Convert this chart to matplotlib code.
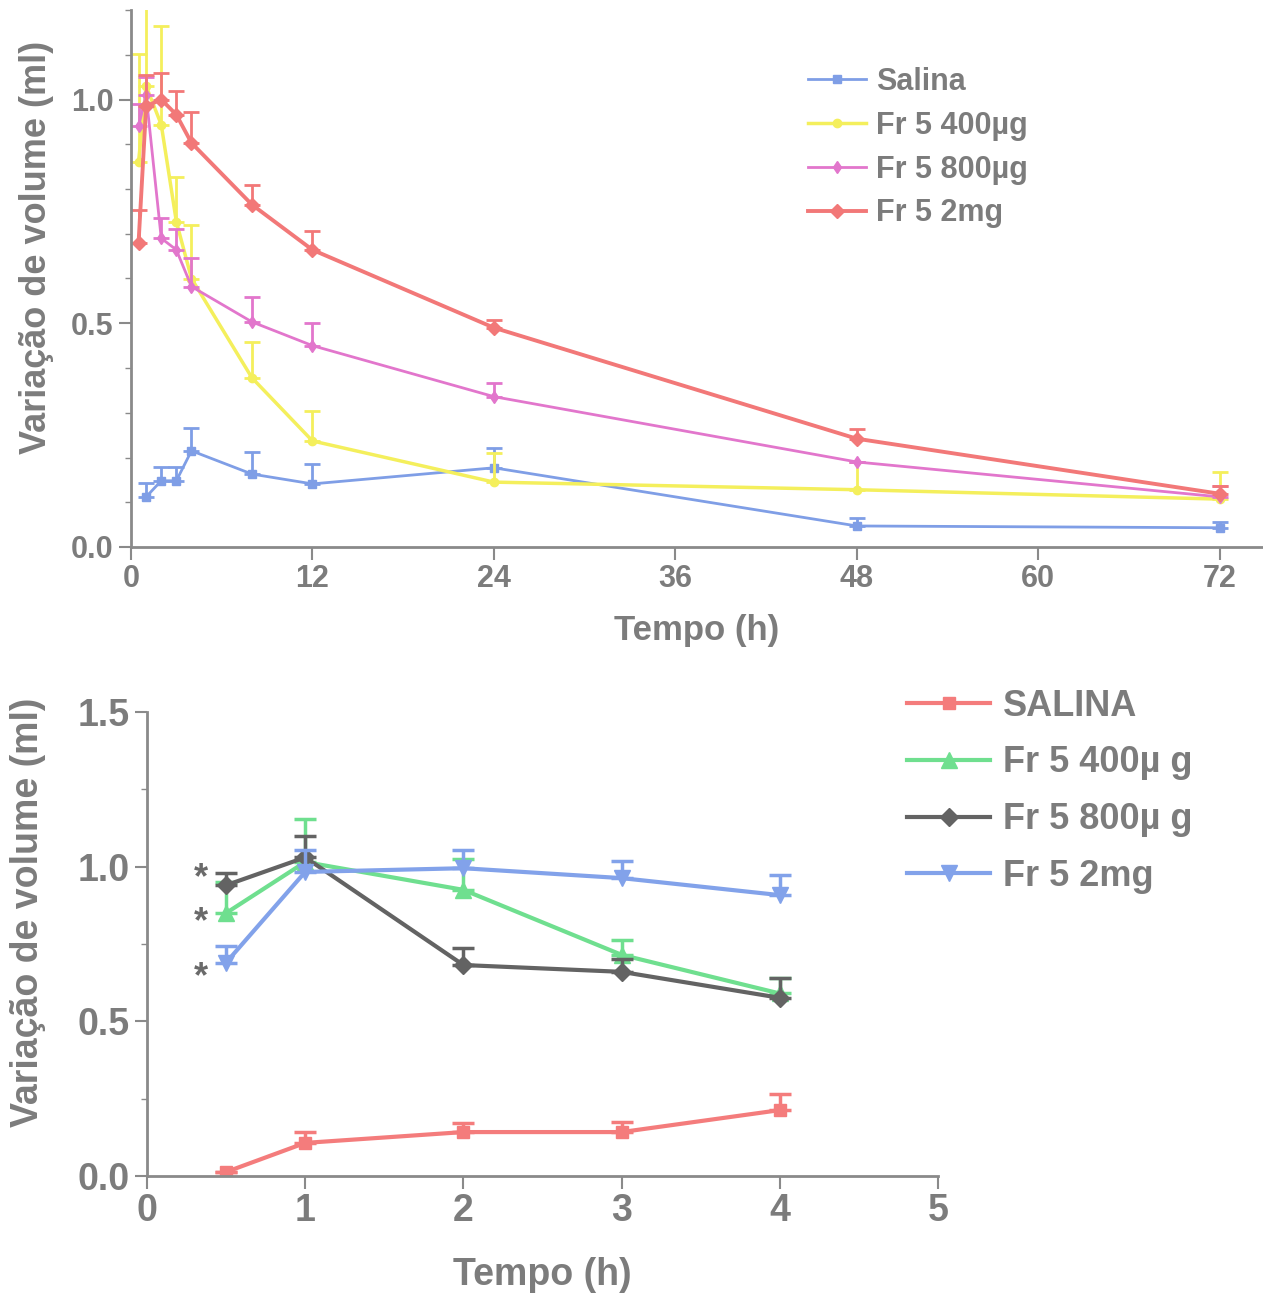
import matplotlib
matplotlib.use("Agg")
import matplotlib.pyplot as plt
import numpy as np
from matplotlib.ticker import MultipleLocator

plt.rcParams['font.family'] = ['Liberation Sans', 'DejaVu Sans']
plt.rcParams['font.weight'] = 'bold'

GREY = '#7c7c7c'
AXC = '#8a8a8a'

# ---------------- top chart data ----------------
t_top = [0.5, 1, 2, 3, 4, 8, 12, 24, 48, 72]
t_sal_top = [1, 2, 3, 4, 8, 12, 24, 48, 72]
sal_top = [0.112, 0.148, 0.148, 0.215, 0.163, 0.141, 0.177, 0.047, 0.043]
sal_top_err = [0.03, 0.03, 0.03, 0.05, 0.05, 0.045, 0.045, 0.018, 0.013]
f400_top = [0.861, 1.03, 0.944, 0.727, 0.60, 0.378, 0.237, 0.145, 0.128, 0.107]
f400_top_err = [0.24, 0.25, 0.22, 0.10, 0.12, 0.08, 0.067, 0.065, 0.062, 0.061]
f800_top = [0.94, 1.01, 0.69, 0.664, 0.582, 0.503, 0.45, 0.336, 0.19, 0.112]
f800_top_err = [0.05, 0.04, 0.045, 0.046, 0.064, 0.056, 0.05, 0.03, 0.0, 0.025]
f2mg_top = [0.68, 0.985, 1.0, 0.966, 0.903, 0.765, 0.664, 0.49, 0.242, 0.119]
f2mg_top_err = [0.074, 0.07, 0.06, 0.054, 0.07, 0.045, 0.043, 0.018, 0.022, 0.017]
labels_top = ['Salina', 'Fr 5 400\u00b5g', 'Fr 5 800\u00b5g', 'Fr 5 2mg']
xticks_top = [0, 12, 24, 36, 48, 60, 72]
yticks_top = [0.0, 0.5, 1.0]

# ---------------- bottom chart data ----------------
t_bot = [0.5, 1, 2, 3, 4]
sal_bot = [0.013, 0.107, 0.142, 0.142, 0.213]
sal_bot_err = [0.0, 0.034, 0.03, 0.033, 0.052]
f400_bot = [0.85, 1.015, 0.925, 0.715, 0.59]
f400_bot_err = [0.10, 0.14, 0.10, 0.048, 0.05]
f800_bot = [0.94, 1.03, 0.682, 0.66, 0.576]
f800_bot_err = [0.04, 0.07, 0.055, 0.04, 0.065]
f2mg_bot = [0.69, 0.983, 0.995, 0.963, 0.908]
f2mg_bot_err = [0.055, 0.07, 0.06, 0.055, 0.065]
labels_bot = ['SALINA', 'Fr 5 400\u00b5 g', 'Fr 5 800\u00b5 g', 'Fr 5 2mg']
xticks_bot = [0, 1, 2, 3, 4, 5]
yticks_bot = [0.0, 0.5, 1.0, 1.5]
star_y = [0.96, 0.82, 0.64]

fig = plt.figure(figsize=(12.63, 12.95), dpi=100)


def style(ax, fs):
    for s in ['top', 'right']:
        ax.spines[s].set_visible(False)
    for s in ['left', 'bottom']:
        ax.spines[s].set_color(AXC)
        ax.spines[s].set_linewidth(2)
    ax.tick_params(axis='both', which='major', colors=AXC, labelcolor=GREY,
                   labelsize=fs, width=1.5, length=9, direction='out')
    ax.tick_params(axis='both', which='minor', colors=AXC, width=1, length=4, direction='out')
    for lab in ax.get_xticklabels() + ax.get_yticklabels():
        lab.set_fontweight('bold')


# ---------------- top ----------------
ax1 = fig.add_axes([131 / 1263, 1 - 547 / 1295, (1262 - 131) / 1263, (547 - 10) / 1295])
top_specs = [
    (t_sal_top, sal_top, sal_top_err, '#7f9ee6', 's', 2.0, 6),
    (t_top, f400_top, f400_top_err, '#f4ef5c', 'o', 2.5, 6),
    (t_top, f800_top, f800_top_err, '#e276cc', 'd', 2.0, 6),
    (t_top, f2mg_top, f2mg_top_err, '#f27878', 'D', 2.8, 7),
]
handles = []
for (x, y, e, c, m, lw, ms), lab in zip(top_specs, labels_top):
    ax1.errorbar(x, y, yerr=[np.zeros(len(e)), e], fmt='none', ecolor=c,
                 elinewidth=2, capsize=6, capthick=2)
    h, = ax1.plot(x, y, color=c, marker=m, lw=lw, ms=ms, label=lab)
    handles.append(h)
ax1.set_xlim(0, 74.8)
ax1.set_ylim(0, 1.2)
ax1.set_xticks(xticks_top)
ax1.set_yticks(yticks_top)
ax1.set_yticklabels(['%.1f' % v for v in yticks_top])
ax1.yaxis.set_minor_locator(MultipleLocator(0.1))
style(ax1, 22)
ax1.set_xlabel('Tempo (h)', fontsize=25, color=GREY, fontweight='bold', labelpad=14)
ax1.set_ylabel('Variação de volume (ml)', fontsize=26, color=GREY, fontweight='bold')
ax1.yaxis.set_label_coords(-0.068, 0.557)
leg1 = ax1.legend(handles=handles, loc='upper left', bbox_to_anchor=(0.574, 0.945),
                  frameon=False, fontsize=22, handlelength=1.9, handletextpad=0.35,
                  labelspacing=0.45, labelcolor=GREY)
for t in leg1.get_texts():
    t.set_fontweight('bold')

# ---------------- bottom ----------------
ax2 = fig.add_axes([147 / 1263, 1 - 1176 / 1295, (938 - 147) / 1263, (1176 - 712) / 1295])
bot_specs = [
    (sal_bot, sal_bot_err, '#f47c7c', 's', 9),
    (f400_bot, f400_bot_err, '#6fdf8f', '^', 11),
    (f800_bot, f800_bot_err, '#636363', 'D', 9),
    (f2mg_bot, f2mg_bot_err, '#82a2ea', 'v', 11),
]
handles2 = []
for (y, e, c, m, ms), lab in zip(bot_specs, labels_bot):
    ax2.errorbar(t_bot, y, yerr=[np.zeros(len(e)), e], fmt='none', ecolor=c,
                 elinewidth=2.5, capsize=8, capthick=2.5)
    h, = ax2.plot(t_bot, y, color=c, marker=m, lw=3, ms=ms, label=lab)
    handles2.append(h)
for sy in star_y:
    ax2.text(0.34, sy, '*', fontsize=26, color='#6a6a6a', ha='center', va='center',
             fontweight='bold')
ax2.set_xlim(0, 5)
ax2.set_ylim(0, 1.5)
ax2.set_xticks(xticks_bot)
ax2.set_yticks(yticks_bot)
ax2.set_yticklabels(['%.1f' % v for v in yticks_bot])
ax2.yaxis.set_minor_locator(MultipleLocator(0.25))
style(ax2, 27)
ax2.set_xlabel('Tempo (h)', fontsize=27, color=GREY, fontweight='bold', labelpad=20)
ax2.set_ylabel('Variação de volume (ml)', fontsize=27, color=GREY, fontweight='bold')
ax2.yaxis.set_label_coords(-0.128, 0.569)
leg2 = ax2.legend(handles=handles2, loc='upper left', bbox_to_anchor=(0.92, 1.12),
                  frameon=False, fontsize=26, handlelength=2.3, handletextpad=0.35,
                  labelspacing=0.6, labelcolor=GREY)
for t in leg2.get_texts():
    t.set_fontweight('bold')

fig.savefig('out.png', dpi=100, facecolor='white')
